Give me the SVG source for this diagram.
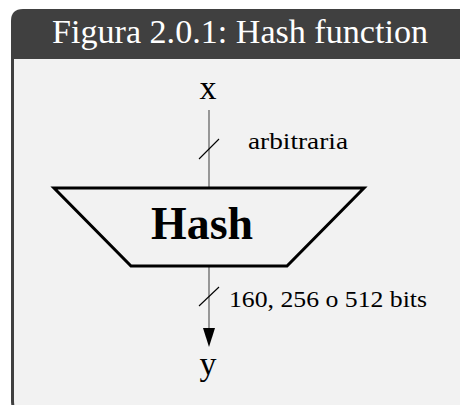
<svg xmlns="http://www.w3.org/2000/svg" width="460" height="405" viewBox="0 0 460 405">
  <style>
    .serif { font-family: "Liberation Serif", "DejaVu Serif", serif; fill: #000; }
    .title { font-family: "Liberation Serif", "DejaVu Serif", serif; fill: #ffffff; font-size: 33px; }
    .wire { stroke: #808080; stroke-width: 1.6; fill: none; }
    .tick { stroke: #000; stroke-width: 1.1; fill: none; }
  </style>

  <rect width="460" height="405" fill="#ffffff"/>

  <!-- frame: dark header + light body, rounded on the left -->
  <g id="frame">
    <path d="M11,400 L11,21 Q11,9 23,9 L480,9 L480,420 L16,420 Q11,410 11,400 Z" fill="#404040"/>
    <path d="M14,59 L484,59 L484,420 L19,420 Q14,410 14,400 Z" fill="#f2f2f2"/>
    <text class="title" x="240" y="43" text-anchor="middle" textLength="376" lengthAdjust="spacingAndGlyphs">Figura 2.0.1: Hash function</text>
  </g>

  <!-- connectors -->
  <g id="connectors">
    <line class="wire" x1="209" y1="110" x2="209" y2="188"/>
    <line class="tick" x1="199" y1="159" x2="219" y2="139"/>
    <line class="wire" x1="209" y1="267" x2="209" y2="328"/>
    <path d="M203,328 L215,328 L209,347 Z" fill="#000"/>
    <line class="tick" x1="199" y1="306" x2="219" y2="287"/>
    <text class="serif" x="248" y="149" font-size="24" textLength="100" lengthAdjust="spacingAndGlyphs">arbitraria</text>
    <text class="serif" x="229" y="307" font-size="24" textLength="198" lengthAdjust="spacingAndGlyphs">160, 256 o 512 bits</text>
  </g>

  <g id="input-x">
    <text class="serif" x="208" y="99" font-size="34" text-anchor="middle">x</text>
  </g>

  <g id="hash">
    <polygon points="54,188 364,188 287,266 131,266" fill="none" stroke="#000" stroke-width="3" stroke-linejoin="miter"/>
    <text class="serif" x="202" y="239" font-size="46" font-weight="bold" text-anchor="middle" textLength="102" lengthAdjust="spacingAndGlyphs">Hash</text>
  </g>

  <g id="output-y">
    <text class="serif" x="208" y="375" font-size="34" text-anchor="middle">y</text>
  </g>
</svg>
